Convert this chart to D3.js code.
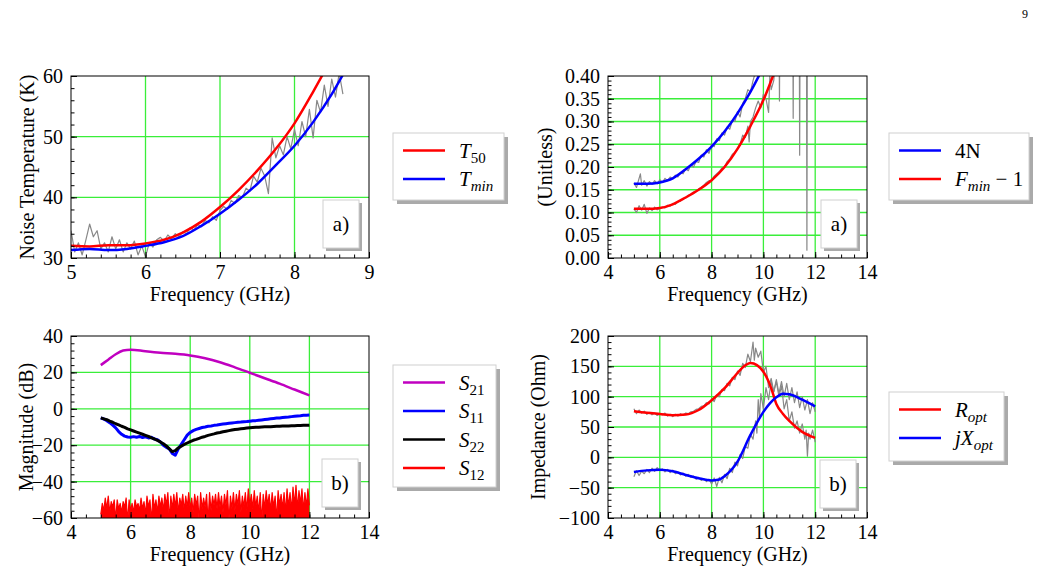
<!DOCTYPE html>
<html>
<head>
<meta charset="utf-8">
<script src="https://cdn.jsdelivr.net/npm/d3@7"></script>
<style>
  body { margin: 0; background: #fff; }
  svg text { font-family: "Liberation Serif", "Times New Roman", Times, serif !important; }
</style>
</head>
<body>
<svg id="fig" width="1039" height="575"></svg>
<script>
// ---- panel a) top-left: noise temperature
var tFreq = [5, 5.25, 5.5, 5.75, 6, 6.25, 6.5, 6.75, 7, 7.25, 7.5, 7.75, 8, 8.25, 8.5];
var t50 = [32, 31.9, 32.1, 32.1, 32.4, 33, 34.2, 36, 38.4, 41.2, 44.4, 48, 52.2, 57.4, 63];
var tminFreq = [5, 5.25, 5.5, 5.75, 6, 6.25, 6.5, 6.75, 7, 7.25, 7.5, 7.75, 8, 8.25, 8.5, 8.75];
var tmin = [31.3, 31.5, 31.3, 31.5, 32, 32.6, 33.6, 35.3, 37.3, 39.6, 42.2, 45.3, 48.5, 52.4, 57, 62.5];
var tMeasFreq = [5, 5.05, 5.1, 5.15, 5.2, 5.25, 5.3, 5.35, 5.4, 5.45, 5.5, 5.55, 5.6, 5.65, 5.7, 5.75, 5.8, 5.85, 5.9, 5.95,
  6, 6.05, 6.1, 6.15, 6.2, 6.25, 6.3, 6.35, 6.4, 6.45, 6.5, 6.55, 6.6, 6.65, 6.7, 6.75, 6.8, 6.85, 6.9, 6.95,
  7, 7.05, 7.1, 7.15, 7.2, 7.25, 7.3, 7.35, 7.4, 7.45, 7.5, 7.55, 7.6, 7.65, 7.7, 7.75, 7.8, 7.85, 7.9, 7.95,
  8, 8.05, 8.1, 8.15, 8.2, 8.25, 8.3, 8.35, 8.4, 8.45, 8.5, 8.55, 8.6, 8.65];
var tMeas = [34.5, 31, 32.5, 30.5, 33, 35.6, 33.5, 34.5, 31.5, 32.5, 31, 33.5, 31.5, 33, 31, 32.5, 31.5, 32.8, 30.5, 32,
  30.2, 32.5, 31.8, 33, 33.4, 32.8, 33.8, 33.2, 34, 33.5, 34.3, 34, 35, 34.6, 35.5, 35.2, 36.2, 35.8, 36.8, 36.2,
  37.8, 38.5, 38, 39.5, 39, 40.3, 40, 41.5, 41, 43.5, 42.5, 44.8, 43.5, 40.6, 49.8, 46.5, 48.5, 47, 50, 48,
  51.2, 48.5, 52.5, 50, 54.5, 49.8, 56, 54, 58.5, 55, 59.5, 56.5, 60.5, 57];

// ---- panel a) top-right: 4N and Fmin-1
var nFreq = [5, 5.5, 6, 6.5, 7, 7.5, 8, 8.5, 9, 9.5, 10];
var n4 = [0.163, 0.163, 0.166, 0.175, 0.195, 0.218, 0.245, 0.278, 0.318, 0.365, 0.42];
var fFreq = [5, 5.5, 6, 6.5, 7, 7.5, 8, 8.5, 9, 9.5, 10, 10.5];
var fmin1 = [0.108, 0.108, 0.11, 0.118, 0.133, 0.15, 0.171, 0.2, 0.24, 0.29, 0.347, 0.42];
var nMeas = [[5, 0.165], [5.1, 0.155], [5.2, 0.175], [5.25, 0.185], [5.3, 0.16], [5.4, 0.17], [5.5, 0.158], [5.6, 0.168],
  [5.7, 0.162], [5.8, 0.17], [5.9, 0.163], [6, 0.172], [6.1, 0.166], [6.2, 0.175], [6.3, 0.17], [6.4, 0.178],
  [6.5, 0.174], [6.6, 0.182], [6.7, 0.178], [6.8, 0.188], [6.9, 0.185], [7, 0.196], [7.1, 0.192], [7.2, 0.205],
  [7.3, 0.2], [7.4, 0.212], [7.5, 0.21], [7.6, 0.226], [7.7, 0.222], [7.8, 0.238], [7.9, 0.23], [8, 0.25],
  [8.1, 0.245], [8.2, 0.262], [8.3, 0.258], [8.4, 0.275], [8.5, 0.27], [8.6, 0.288], [8.7, 0.283], [8.8, 0.302],
  [8.9, 0.3], [9, 0.322], [9.1, 0.31], [9.2, 0.34], [9.3, 0.35], [9.4, 0.37], [9.5, 0.365], [9.6, 0.39],
  [9.7, 0.41], [9.8, 0.45], [9.9, 0.5]];
var fMeas = [[5, 0.108], [5.1, 0.1], [5.2, 0.115], [5.3, 0.105], [5.4, 0.118], [5.5, 0.098], [5.6, 0.11], [5.7, 0.104],
  [5.8, 0.112], [5.9, 0.106], [6, 0.109], [6.1, 0.112], [6.2, 0.11], [6.3, 0.116], [6.4, 0.114], [6.5, 0.12],
  [6.6, 0.118], [6.7, 0.124], [6.8, 0.125], [6.9, 0.13], [7, 0.132], [7.1, 0.138], [7.2, 0.14], [7.3, 0.145],
  [7.4, 0.146], [7.5, 0.152], [7.6, 0.155], [7.7, 0.16], [7.8, 0.166], [7.9, 0.17], [8, 0.17], [8.1, 0.18],
  [8.2, 0.185], [8.3, 0.19], [8.4, 0.198], [8.5, 0.2], [8.6, 0.212], [8.7, 0.218], [8.8, 0.228], [8.9, 0.232],
  [9, 0.24], [9.1, 0.25], [9.2, 0.27], [9.3, 0.265], [9.4, 0.29], [9.45, 0.255], [9.5, 0.3], [9.6, 0.31],
  [9.7, 0.33], [9.8, 0.345], [9.9, 0.33], [10, 0.36], [10.1, 0.35], [10.2, 0.32], [10.25, 0.4], [10.3, 0.37],
  [10.4, 0.39], [10.5, 0.45], [10.6, 0.55], [10.62, 0.345], [10.64, 0.55], [10.8, 0.6], [11.13, 0.6], [11.15, 0.307],
  [11.17, 0.6], [11.38, 0.6], [11.4, 0.226], [11.42, 0.6], [11.66, 0.6], [11.68, 0.017], [11.7, 0.6], [12, 0.6]];

// ---- panel b) bottom-left: S-parameters
var s21Freq = [5, 5.25, 5.5, 5.75, 6, 6.5, 7, 7.5, 8, 8.5, 9, 9.5, 10, 10.5, 11, 11.5, 12];
var s21 = [24, 27, 30, 32, 32.5, 31.6, 30.8, 30.2, 29.3, 27.8, 25.6, 22.8, 19.8, 16.8, 13.8, 10.6, 7.4];
var sFreq = [5, 5.1, 5.2, 5.3, 5.4, 5.5, 5.6, 5.7, 5.8, 5.9, 6, 6.1, 6.2, 6.3, 6.4, 6.5, 6.6, 6.7, 6.8, 6.9,
  7, 7.1, 7.2, 7.3, 7.4, 7.5, 7.6, 7.7, 7.8, 7.9, 8, 8.1, 8.2, 8.3, 8.4, 8.5, 8.6, 8.7, 8.8, 8.9,
  9, 9.1, 9.2, 9.3, 9.4, 9.5, 9.6, 9.7, 9.8, 9.9, 10, 10.1, 10.2, 10.3, 10.4, 10.5, 10.6, 10.7, 10.8, 10.9,
  11, 11.1, 11.2, 11.3, 11.4, 11.5, 11.6, 11.7, 11.8, 11.9, 12];
var s11 = [-5, -5.6, -6.5, -7.6, -9, -10.5, -12.5, -14, -15, -15.5, -15.6, -15.3, -15.6, -15.2, -15.8, -15.4, -16, -15.6, -16.6, -17,
  -18.2, -20, -21.2, -22, -24.5, -25.5, -22, -19.5, -17, -14.5, -13, -12, -11.3, -10.8, -10.3, -10, -9.6, -9.4, -9.1, -8.9,
  -8.6, -8.4, -8.2, -8, -7.8, -7.6, -7.4, -7.3, -7.1, -7, -6.8, -6.6, -6.5, -6.3, -6.1, -5.9, -5.7, -5.5, -5.3, -5.1,
  -5, -4.8, -4.6, -4.5, -4.3, -4.1, -3.9, -3.8, -3.6, -3.5, -3.4];
var s22 = [-5, -5.5, -6, -6.8, -7.4, -8.2, -8.8, -9.6, -10.2, -11, -11.6, -12.2, -12.8, -13.4, -14, -14.6, -15.2, -16, -16.6, -17.4,
  -18.2, -19.2, -20.4, -22, -23.5, -23, -21.5, -20.5, -19.6, -18.8, -18, -17.3, -16.8, -16.2, -15.6, -15.2, -14.6, -14.2, -13.8, -13.3,
  -13, -12.6, -12.3, -12, -11.7, -11.4, -11.2, -11, -10.8, -10.6, -10.4, -10.3, -10.2, -10.1, -10, -9.9, -9.8, -9.8, -9.7, -9.6,
  -9.6, -9.5, -9.4, -9.4, -9.3, -9.3, -9.2, -9.2, -9.1, -9.1, -9];
var s12Freq = [5, 5.05, 5.1, 5.15, 5.2, 5.25, 5.3, 5.35, 5.4, 5.45, 5.5, 5.55, 5.6, 5.65, 5.7, 5.75, 5.8, 5.85, 5.9, 5.95,
  6, 6.05, 6.1, 6.15, 6.2, 6.25, 6.3, 6.35, 6.4, 6.45, 6.5, 6.55, 6.6, 6.65, 6.7, 6.75, 6.8, 6.85, 6.9, 6.95,
  7, 7.05, 7.1, 7.15, 7.2, 7.25, 7.3, 7.35, 7.4, 7.45, 7.5, 7.55, 7.6, 7.65, 7.7, 7.75, 7.8, 7.85, 7.9, 7.95,
  8, 8.05, 8.1, 8.15, 8.2, 8.25, 8.3, 8.35, 8.4, 8.45, 8.5, 8.55, 8.6, 8.65, 8.7, 8.75, 8.8, 8.85, 8.9, 8.95,
  9, 9.05, 9.1, 9.15, 9.2, 9.25, 9.3, 9.35, 9.4, 9.45, 9.5, 9.55, 9.6, 9.65, 9.7, 9.75, 9.8, 9.85, 9.9, 9.95,
  10, 10.05, 10.1, 10.15, 10.2, 10.25, 10.3, 10.35, 10.4, 10.45, 10.5, 10.55, 10.6, 10.65, 10.7, 10.75, 10.8, 10.85, 10.9, 10.95,
  11, 11.05, 11.1, 11.15, 11.2, 11.25, 11.3, 11.35, 11.4, 11.45, 11.5, 11.55, 11.6, 11.65, 11.7, 11.75, 11.8, 11.85, 11.9, 11.95, 12];
var s12 = [-58, -52, -56, -49, -55, -48, -57, -51, -54, -50, -61, -50, -55, -52, -57, -51, -54, -49, -62, -50,
  -56, -52, -57, -50, -54, -52, -56, -49, -55, -51, -58, -48, -54, -50, -62, -47, -55, -50, -57, -48,
  -54, -49, -56, -47, -53, -46, -61, -48, -55, -47, -54, -46, -57, -49, -53, -47, -56, -48, -54, -46,
  -55, -49, -57, -47, -53, -48, -62, -46, -55, -49, -54, -47, -62, -46, -56, -48, -53, -47, -55, -46,
  -54, -48, -57, -47, -53, -45, -62, -48, -55, -46, -56, -47, -53, -45, -57, -48, -54, -46, -56, -44,
  -53, -47, -55, -45, -54, -48, -57, -46, -62, -47, -55, -45, -53, -47, -56, -46, -54, -48, -61, -45,
  -53, -47, -55, -46, -57, -44, -54, -46, -56, -43, -53, -42, -55, -45, -52, -44, -56, -46, -54, -44, -53];

// ---- panel b) bottom-right: optimum impedance
var rFreq = [5, 5.5, 6, 6.5, 7, 7.5, 8, 8.5, 9, 9.25, 9.5, 9.75, 10, 10.2, 10.3, 10.5, 10.75, 11, 11.5, 12];
var ropt = [76, 73.5, 71.5, 69.5, 70.5, 78, 94, 114, 139, 150, 155.5, 152, 141, 125, 114, 88, 72, 60, 42, 32];
var xFreq = [5, 5.5, 6, 6.5, 7, 7.5, 8, 8.25, 8.5, 9, 9.5, 10, 10.25, 10.5, 10.75, 11, 11.5, 12];
var xopt = [-24, -21.5, -20.5, -23, -29, -34.5, -38, -37, -31, -7, 37, 75, 89, 99, 105, 104, 95, 84];
var rMeas = [[5, 80], [5.1, 72], [5.2, 78], [5.3, 73], [5.4, 76], [5.5, 71], [5.6, 74], [5.7, 70], [5.8, 73], [5.9, 69],
  [6, 72], [6.1, 70], [6.2, 73], [6.3, 68], [6.4, 71], [6.5, 67], [6.6, 71], [6.7, 68], [6.8, 72], [6.9, 69],
  [7, 73], [7.1, 72], [7.2, 75], [7.3, 76], [7.4, 79], [7.5, 80], [7.6, 84], [7.7, 85], [7.8, 90], [7.9, 88],
  [8, 96], [8.1, 92], [8.2, 103], [8.3, 100], [8.4, 112], [8.5, 110], [8.6, 122], [8.7, 118], [8.8, 132], [8.9, 128],
  [9, 142], [9.1, 135], [9.2, 155], [9.3, 148], [9.4, 170], [9.5, 158], [9.6, 190], [9.65, 160], [9.7, 180], [9.8, 165],
  [9.9, 175], [10, 140], [10.1, 150], [10.2, 115], [10.3, 130], [10.4, 108], [10.5, 125], [10.6, 100], [10.7, 118], [10.8, 80],
  [10.9, 95], [11, 60], [11.1, 75], [11.2, 48], [11.3, 60], [11.4, 40], [11.5, 55], [11.6, 30], [11.65, 45], [11.7, 2],
  [11.75, 40], [11.8, 30], [11.9, 45], [12, 25]];
var xMeas = [[5, -32], [5.1, -22], [5.2, -30], [5.3, -23], [5.4, -27], [5.5, -20], [5.6, -25], [5.7, -18], [5.8, -23], [5.9, -17],
  [6, -22], [6.1, -19], [6.2, -24], [6.3, -20], [6.4, -25], [6.5, -21], [6.6, -27], [6.7, -24], [6.8, -29], [6.9, -26],
  [7, -31], [7.1, -28], [7.2, -33], [7.3, -31], [7.4, -36], [7.5, -33], [7.6, -38], [7.7, -35], [7.8, -40], [7.9, -36],
  [8, -44], [8.1, -34], [8.2, -48], [8.3, -33], [8.4, -42], [8.5, -28], [8.6, -35], [8.7, -18], [8.8, -25], [8.9, -8],
  [9, -14], [9.1, 5], [9.2, -2], [9.3, 18], [9.4, 15], [9.5, 38], [9.6, 30], [9.7, 60], [9.75, 40], [9.8, 95],
  [9.85, 65], [9.9, 105], [10, 80], [10.1, 115], [10.2, 95], [10.3, 125], [10.4, 108], [10.5, 128], [10.6, 105], [10.7, 125],
  [10.8, 100], [10.9, 122], [11, 95], [11.1, 115], [11.2, 90], [11.3, 108], [11.4, 82], [11.5, 100], [11.6, 78], [11.7, 95],
  [11.8, 72], [11.9, 90], [12, 75]];

// tick labels
var p1XTicks = [5, 6, 7, 8, 9], p1YTicks = [30, 40, 50, 60];
var p2XTicks = [4, 6, 8, 10, 12, 14], p2YTicks = [0, 0.05, 0.1, 0.15, 0.2, 0.25, 0.3, 0.35, 0.4];
var p3XTicks = [4, 6, 8, 10, 12, 14], p3YTicks = [-60, -40, -20, 0, 20, 40];
var p4XTicks = [4, 6, 8, 10, 12, 14], p4YTicks = [-100, -50, 0, 50, 100, 150, 200];

var svg = d3.select("#fig");
var GRID = "#3aee3a";
var SERIF = "Liberation Serif";

function zip(xs, ys) {
    return xs.map(function (x, i) { return [x, ys[i]]; });
}

function drawPanel(cfg) {
    let xScale = d3.scaleLinear().domain(cfg.xd).range([cfg.x0, cfg.x1]);
    let yScale = d3.scaleLinear().domain(cfg.yd).range([cfg.y1, cfg.y0]);
    let g = svg.append("g");

    // grid
    g.append("g").selectAll("line").data(cfg.xt.slice(1, -1)).enter()
        .append("line")
        .attr("x1", d => xScale(d)).attr("x2", d => xScale(d))
        .attr("y1", cfg.y0).attr("y2", cfg.y1)
        .attr("stroke", GRID).attr("stroke-width", 1.3);
    g.append("g").selectAll("line").data(cfg.yt.slice(1, -1)).enter()
        .append("line")
        .attr("y1", d => yScale(d)).attr("y2", d => yScale(d))
        .attr("x1", cfg.x0).attr("x2", cfg.x1)
        .attr("stroke", GRID).attr("stroke-width", 1.3);

    // data lines, clipped to the axes box
    svg.append("clipPath").attr("id", cfg.id)
        .append("rect").attr("x", cfg.x0).attr("y", cfg.y0)
        .attr("width", cfg.x1 - cfg.x0).attr("height", cfg.y1 - cfg.y0);
    let lines = g.append("g").attr("clip-path", "url(#" + cfg.id + ")");
    cfg.series.forEach(function (s) {
        if (s.band) {
            // dense noisy trace: filled down to the bottom of the axes
            let area = d3.area()
                .x(d => xScale(d[0])).y0(cfg.y1 + 5).y1(d => yScale(d[1]));
            lines.append("path").attr("d", area(s.data)).attr("fill", s.color);
        }
        let line = d3.line()
            .x(d => xScale(d[0])).y(d => yScale(d[1]))
            .curve(s.smooth ? d3.curveMonotoneX : d3.curveLinear);
        lines.append("path")
            .attr("d", line(s.data))
            .attr("fill", "none")
            .attr("stroke", s.color)
            .attr("stroke-width", s.width)
            .attr("stroke-linejoin", "round");
    });

    // frame
    g.append("rect").attr("x", cfg.x0).attr("y", cfg.y0)
        .attr("width", cfg.x1 - cfg.x0).attr("height", cfg.y1 - cfg.y0)
        .attr("fill", "none").attr("stroke", "#000").attr("stroke-width", 1);

    // axes, ticks inside
    let xAxis = d3.axisBottom(xScale).tickValues(cfg.xt).tickSizeInner(-6).tickSizeOuter(0)
        .tickPadding(7).tickFormat(d3.format("d"));
    let yAxis = d3.axisLeft(yScale).tickValues(cfg.yt).tickSizeInner(-6).tickSizeOuter(0)
        .tickPadding(8).tickFormat(d3.format(cfg.fmt));
    let xMinor = d3.axisBottom(xScale).tickValues(cfg.xm).tickSize(-3.5).tickFormat("");
    let yMinor = d3.axisLeft(yScale).tickValues(cfg.ym).tickSize(-3.5).tickFormat("");
    [[xAxis, "translate(0," + cfg.y1 + ")"], [xMinor, "translate(0," + cfg.y1 + ")"],
     [yAxis, "translate(" + cfg.x0 + ",0)"], [yMinor, "translate(" + cfg.x0 + ",0)"]].forEach(function (a) {
        let ax = g.append("g").attr("transform", a[1]).call(a[0]).attr("font-family", SERIF);
        ax.select(".domain").remove();
        ax.selectAll("line").attr("stroke", "#000");
        ax.selectAll("text").attr("font-family", SERIF).attr("font-size", 20).attr("fill", "#000");
    });

    // axis titles
    g.append("text").attr("x", (cfg.x0 + cfg.x1) / 2).attr("y", cfg.y1 + 43)
        .attr("font-family", SERIF)
        .attr("text-anchor", "middle").attr("font-size", 20).text("Frequency (GHz)");
    g.append("text")
        .attr("transform", "translate(" + cfg.ylx + "," + (cfg.y0 + cfg.y1) / 2 + ") rotate(-90)")
        .attr("font-family", SERIF)
        .attr("text-anchor", "middle").attr("font-size", 20).text(cfg.ylabel);

    // a) / b) tag
    let bx = cfg.tag[0], by = cfg.tag[1], bw = 36, bh = 48;
    g.append("rect").attr("x", bx + 3).attr("y", by + 3).attr("width", bw).attr("height", bh).attr("fill", "#aaa");
    g.append("rect").attr("x", bx).attr("y", by).attr("width", bw).attr("height", bh)
        .attr("fill", "#fff").attr("stroke", "#d0d0d0");
    g.append("text").attr("x", bx + bw / 2).attr("y", by + bh / 2 + 7)
        .attr("font-family", SERIF)
        .attr("text-anchor", "middle").attr("font-size", 21).text(cfg.tagText);
}

function drawLegend(x, y, w, h, rows) {
    let g = svg.append("g");
    g.append("rect").attr("x", x + 4).attr("y", y + 4).attr("width", w).attr("height", h).attr("fill", "#aaa");
    g.append("rect").attr("x", x).attr("y", y).attr("width", w).attr("height", h)
        .attr("fill", "#fff").attr("stroke", "#d0d0d0");
    rows.forEach(function (r, i) {
        let ly = y + 17.5 + i * 28.5;
        g.append("line").attr("x1", x + 10).attr("x2", x + 52).attr("y1", ly).attr("y2", ly)
            .attr("stroke", r.color).attr("stroke-width", 2.5);
        let t = g.append("text").attr("x", x + 66).attr("y", ly + 7)
            .attr("font-family", SERIF).attr("font-size", 21);
        r.parts.forEach(function (p) {
            let ts = t.append("tspan").text(p.t);
            if (p.i) ts.attr("font-style", "italic");
            if (p.sub) ts.attr("font-size", 15).attr("dy", 5);
            if (p.up) ts.attr("dy", -5);
        });
    });
}

drawPanel({
    id: "c1", x0: 71, x1: 369, y0: 76, y1: 258, xd: [5, 9], yd: [30, 60],
    xt: p1XTicks, yt: p1YTicks, xm: d3.range(5, 9.01, 0.2), ym: d3.range(30, 60.1, 2), fmt: "d",
    ylabel: "Noise Temperature (K)", ylx: 34, tag: [323, 200], tagText: "a)",
    series: [
        { data: zip(tMeasFreq, tMeas), color: "#888", width: 1.2 },
        { data: zip(tFreq, t50), color: "#ff0000", width: 2.5, smooth: true },
        { data: zip(tminFreq, tmin), color: "#0000ff", width: 2.5, smooth: true }
    ]
});
drawLegend(393, 133, 111, 67, [
    { color: "#ff0000", parts: [{ t: "T", i: true }, { t: "50", sub: true }] },
    { color: "#0000ff", parts: [{ t: "T", i: true }, { t: "min", i: true, sub: true }] }
]);

drawPanel({
    id: "c2", x0: 608, x1: 867, y0: 76, y1: 258, xd: [4, 14], yd: [0, 0.4],
    xt: p2XTicks, yt: p2YTicks, xm: d3.range(4, 14.01, 0.5), ym: d3.range(0, 0.401, 0.01), fmt: ".2f",
    ylabel: "(Unitless)", ylx: 552, tag: [821, 200], tagText: "a)",
    series: [
        { data: nMeas, color: "#888", width: 1.2 },
        { data: fMeas, color: "#888", width: 1.2 },
        { data: zip(nFreq, n4), color: "#0000ff", width: 2.5, smooth: true },
        { data: zip(fFreq, fmin1), color: "#ff0000", width: 2.5, smooth: true }
    ]
});
drawLegend(889, 133, 140, 67, [
    { color: "#0000ff", parts: [{ t: "4N" }] },
    { color: "#ff0000", parts: [{ t: "F", i: true }, { t: "min", i: true, sub: true }, { t: " − 1", up: true }] }
]);

drawPanel({
    id: "c3", x0: 71, x1: 369, y0: 336, y1: 518, xd: [4, 14], yd: [-60, 40],
    xt: p3XTicks, yt: p3YTicks, xm: d3.range(4, 14.01, 0.5), ym: d3.range(-60, 40.1, 4), fmt: "d",
    ylabel: "Magnitude (dB)", ylx: 33, tag: [322, 459], tagText: "b)",
    series: [
        { data: zip(s12Freq, s12), color: "#ff0000", width: 1.2, band: true },
        { data: zip(s21Freq, s21), color: "#c000c0", width: 2.5, smooth: true },
        { data: zip(sFreq, s11), color: "#0000ff", width: 3 },
        { data: zip(sFreq, s22), color: "#000", width: 3 }
    ]
});
drawLegend(393, 365, 103, 122, [
    { color: "#c000c0", parts: [{ t: "S", i: true }, { t: "21", sub: true }] },
    { color: "#0000ff", parts: [{ t: "S", i: true }, { t: "11", sub: true }] },
    { color: "#000", parts: [{ t: "S", i: true }, { t: "22", sub: true }] },
    { color: "#ff0000", parts: [{ t: "S", i: true }, { t: "12", sub: true }] }
]);

drawPanel({
    id: "c4", x0: 608, x1: 867, y0: 336, y1: 518, xd: [4, 14], yd: [-100, 200],
    xt: p4XTicks, yt: p4YTicks, xm: d3.range(4, 14.01, 0.5), ym: d3.range(-100, 200.1, 10), fmt: "d",
    ylabel: "Impedance (Ohm)", ylx: 545, tag: [820, 460], tagText: "b)",
    series: [
        { data: rMeas, color: "#888", width: 1.2 },
        { data: xMeas, color: "#888", width: 1.2 },
        { data: zip(rFreq, ropt), color: "#ff0000", width: 2.5, smooth: true },
        { data: zip(xFreq, xopt), color: "#0000ff", width: 2.5, smooth: true }
    ]
});
drawLegend(889, 392, 115, 69, [
    { color: "#ff0000", parts: [{ t: "R", i: true }, { t: "opt", i: true, sub: true }] },
    { color: "#0000ff", parts: [{ t: "jX", i: true }, { t: "opt", i: true, sub: true }] }
]);

// page number
svg.append("text").attr("x", 1025).attr("y", 18).attr("font-family", SERIF)
    .attr("font-size", 12).attr("text-anchor", "middle").text("9");
</script>
</body>
</html>
